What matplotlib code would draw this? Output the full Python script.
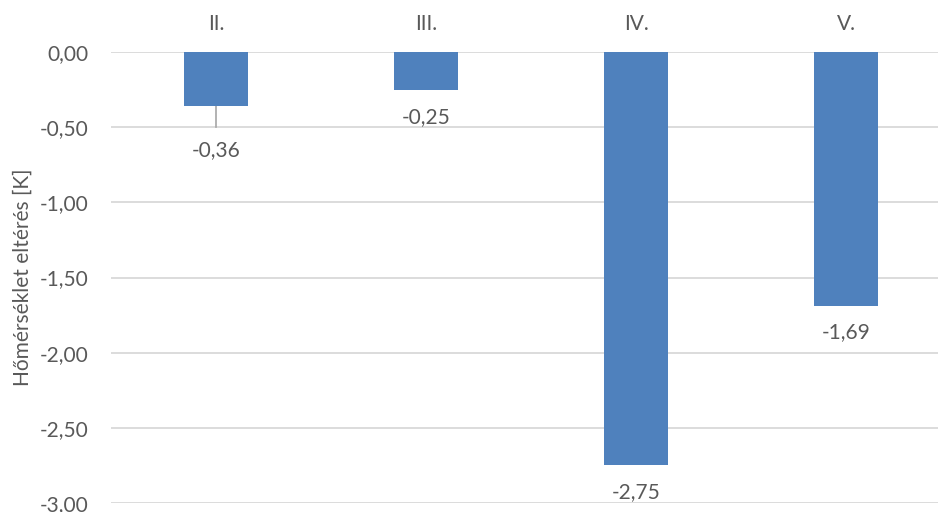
import matplotlib
matplotlib.use("Agg")
import matplotlib.pyplot as plt
import numpy as np

categories = ["II.", "III.", "IV.", "V."]
values = [-0.36, -0.25, -2.75, -1.69]
label_values = ["-0,36", "-0,25", "-2,75", "-1,69"]
yticks = [0.0, -0.5, -1.0, -1.5, -2.0, -2.5, -3.0]
ylabel = "Hőmérséklet eltérés [K]"

text_color = "#595959"
bar_color = "#4F81BD"
grid_color = "#D9D9D9"

plt.rcParams["font.family"] = ["Lato", "DejaVu Sans"]

fig = plt.figure(figsize=(9.38, 5.12), dpi=100)
ax = fig.add_axes([111 / 938, 1 - 503 / 512, 840 / 938, (503 - 52) / 512])

x = np.arange(len(categories))
ax.bar(x, values, width=0.305, color=bar_color, zorder=3)

ax.set_xlim(-0.5, len(categories) - 0.5)
ax.set_ylim(-3.0, 0.0)
ax.set_yticks(yticks)
ax.set_yticklabels([f"{t:.2f}".replace(".", ",") for t in yticks])
ax.tick_params(axis="y", length=0, labelsize=15, labelcolor=text_color, pad=16)
ax.xaxis.tick_top()
ax.set_xticks(x)
ax.set_xticklabels(categories)
ax.tick_params(axis="x", length=0, labelsize=15, labelcolor=text_color, pad=13)
ax.grid(axis="y", color=grid_color, linewidth=1.3, zorder=0)
ax.set_axisbelow(True)
for s in ax.spines.values():
    s.set_visible(False)

ax.set_ylabel(ylabel, fontsize=15, color=text_color, labelpad=5)

# data labels below bars; first one pushed down with a leader line
offsets = [-0.295, -0.185, -0.18, -0.17]
for xi, v, lab, off in zip(x, values, label_values, offsets):
    ax.text(xi, v + off, lab, ha="center", va="center",
            fontsize=15, color=text_color, zorder=4)
ax.plot([x[0], x[0]], [values[0], values[0] - 0.14], color="#A6A6A6",
        linewidth=1.2, zorder=2)

fig.savefig("out.png", dpi=100)
